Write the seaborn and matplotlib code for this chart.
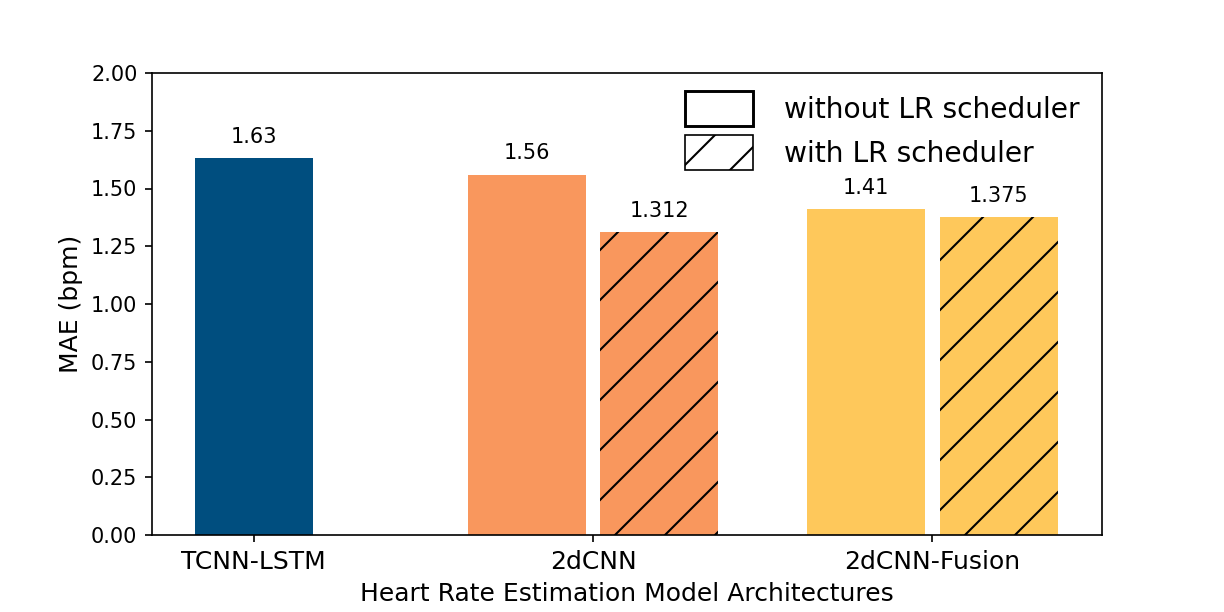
import matplotlib
matplotlib.use("Agg")
import matplotlib.pyplot as plt
from matplotlib.patches import Patch
import pandas as pd
import seaborn as sns

# values
models = ["TCNN-LSTM", "2dCNN", "2dCNN-Fusion"]
mae_without = [1.63, 1.56, 1.41]
mae_with = [None, 1.312, 1.375]
schedulers = ["without LR scheduler", "with LR scheduler"]
model_colors = ["#004e7f", "#f9975d", "#fec85b"]
yticks = [0.00, 0.25, 0.50, 0.75, 1.00, 1.25, 1.50, 1.75, 2.00]

rows = []
for m, a, b in zip(models, mae_without, mae_with):
    rows.append((m, schedulers[0], a))
    if b is not None:
        rows.append((m, schedulers[1], b))
df = pd.DataFrame(rows, columns=["model", "scheduler", "mae"])

sns.set_style("ticks", {
    "axes.edgecolor": "black",
    "xtick.color": "black",
    "ytick.color": "black",
    "text.color": "black",
    "axes.labelcolor": "black",
})
plt.rcParams["font.family"] = ["DejaVu Sans"]
plt.rcParams["hatch.linewidth"] = 1.0
plt.rcParams["axes.linewidth"] = 0.8

fig = plt.figure(figsize=(8.16, 4.08), dpi=150)
ax = fig.add_axes([152 / 1224, 1 - 535 / 612, 950 / 1224, 462 / 612])

sns.barplot(
    data=df, x="model", y="mae", hue="scheduler",
    order=models, hue_order=schedulers,
    width=0.78, gap=0.108, errorbar=None, legend=False,
    linewidth=0, edgecolor="black", ax=ax,
)

for i, container in enumerate(ax.containers):
    labels = []
    for bar in container:
        w = bar.get_width()
        idx = int(round(bar.get_x() + w / 2))
        bar.set_facecolor(model_colors[idx])
        bar.set_edgecolor("black")
        bar.set_linewidth(0)
        if i == 1:
            bar.set_hatch("/")
        # the model without a scheduler variant sits centred on its tick
        if mae_with[idx] is None:
            bar.set_x(idx - w / 2)
        labels.append(str(bar.get_height()))
    ax.bar_label(container, labels=labels, padding=5.4, fontsize=10)

ax.set_xlim(-0.30, 2.50)
ax.set_ylim(0, 2.0)
ax.set_yticks(yticks)
ax.set_yticklabels([f"{t:.2f}" for t in yticks])
ax.tick_params(axis="y", labelsize=10, length=3.5, width=0.8, pad=3.5)
ax.tick_params(axis="x", labelsize=12, length=3.5, width=0.8, pad=3.5)
ax.set_xlabel("Heart Rate Estimation Model Architectures", fontsize=12, labelpad=4)
ax.set_ylabel("MAE (bpm)", fontsize=12, labelpad=4)
for side in ["top", "right", "left", "bottom"]:
    ax.spines[side].set_visible(True)
    ax.spines[side].set_linewidth(0.8)

handles = [
    Patch(facecolor="white", edgecolor="black", linewidth=1.4),
    Patch(facecolor="white", edgecolor="black", linewidth=0.8, hatch="/"),
]
fig.legend(
    handles, schedulers,
    loc="upper left", bbox_to_anchor=(685 / 1224, 1 - 91 / 612),
    frameon=False, fontsize=13.5, borderpad=0, borderaxespad=0,
    handlelength=2.42, handleheight=1.55, handletextpad=1.1, labelspacing=0.3,
)

fig.savefig("out.png", dpi=150)
